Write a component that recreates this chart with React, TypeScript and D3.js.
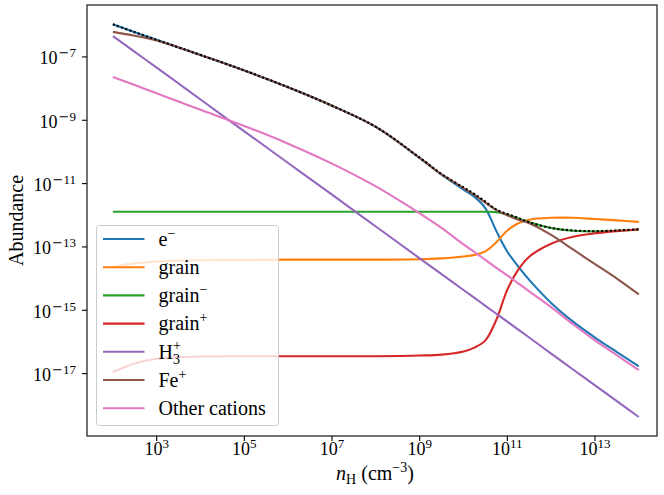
import React from 'react';
import * as d3 from 'd3';

const W = 664;
const H = 495;
// plot frame, in page pixels
const frame = { left: 87, top: 5, right: 657, bottom: 436 };

// hydrogen density (cm^-3)
const nH = [
  1e2, 3.16e2, 1e3, 3.16e3, 1e4, 1e5, 1e6, 1e7, 1e8, 1e9, 3.16e9, 1e10, 1.78e10,
  3.16e10, 5.62e10, 1e11, 1.78e11, 3.16e11, 1e12, 3.16e12, 1e13, 3.16e13, 1e14,
];

const electrons = [
  1.07e-6, 6.03e-7, 3.47e-7, 2.0e-7, 1.15e-7, 3.72e-8, 1.10e-8, 2.88e-9, 6.17e-10, 6.46e-11,
  1.91e-11, 6.46e-12, 3.80e-12, 1.66e-12, 3.16e-13, 7.08e-14, 2.40e-14, 9.12e-15, 1.70e-15,
  4.37e-16, 1.38e-16, 4.79e-17, 1.70e-17,
];
const grain = [
  2.34e-14, 3.02e-14, 3.47e-14, 3.72e-14, 3.80e-14, 3.89e-14, 3.98e-14, 3.98e-14, 3.98e-14,
  4.07e-14, 4.37e-14, 5.01e-14, 5.62e-14, 7.24e-14, 1.41e-13, 3.31e-13, 5.62e-13, 7.24e-13,
  8.32e-13, 8.32e-13, 7.59e-13, 6.92e-13, 6.17e-13,
];
const grainMinus = [
  1.29e-12, 1.29e-12, 1.29e-12, 1.29e-12, 1.29e-12, 1.29e-12, 1.29e-12, 1.29e-12, 1.29e-12,
  1.29e-12, 1.29e-12, 1.29e-12, 1.29e-12, 1.29e-12, 1.26e-12, 1.05e-12, 7.94e-13, 6.03e-13,
  3.98e-13, 3.24e-13, 3.09e-13, 3.24e-13, 3.55e-13,
];
const grainPlus = [
  1.12e-17, 2.09e-17, 2.95e-17, 3.31e-17, 3.47e-17, 3.55e-17, 3.55e-17, 3.55e-17, 3.55e-17,
  3.72e-17, 3.98e-17, 5.01e-17, 6.61e-17, 1.12e-16, 5.01e-16, 4.47e-15, 1.91e-14, 4.90e-14,
  1.26e-13, 2.09e-13, 2.69e-13, 3.16e-13, 3.55e-13,
];
const h3Plus = [
  4.57e-7, 1.45e-7, 4.57e-8, 1.45e-8, 4.52e-9, 4.47e-10, 4.47e-11, 4.47e-12, 4.42e-13,
  4.37e-14, 1.38e-14, 4.37e-15, 2.45e-15, 1.38e-15, 7.76e-16, 4.37e-16, 2.45e-16, 1.38e-16,
  4.27e-17, 1.35e-17, 4.27e-18, 1.35e-18, 4.27e-19,
];
const fePlus = [
  6.17e-7, 4.68e-7, 3.31e-7, 2.0e-7, 1.15e-7, 3.72e-8, 1.10e-8, 2.88e-9, 6.17e-10, 6.46e-11,
  1.95e-11, 7.24e-12, 4.37e-12, 2.51e-12, 1.48e-12, 1.0e-12, 7.24e-13, 5.62e-13, 2.40e-13,
  8.32e-14, 2.88e-14, 1.0e-14, 3.16e-15,
];
const otherCations = [
  2.34e-8, 1.29e-8, 7.08e-9, 3.89e-9, 2.14e-9, 6.61e-10, 1.82e-10, 4.27e-11, 8.13e-12,
  1.15e-12, 3.98e-13, 1.20e-13, 6.92e-14, 3.89e-14, 2.19e-14, 1.26e-14, 7.08e-15, 3.98e-15,
  1.26e-15, 3.63e-16, 1.12e-16, 3.80e-17, 1.29e-17,
];
// total negative charge (black dotted)
const totalNegative = [
  1.07e-6, 6.03e-7, 3.47e-7, 2.0e-7, 1.15e-7, 3.72e-8, 1.10e-8, 2.88e-9, 6.17e-10, 6.61e-11,
  2.0e-11, 7.59e-12, 4.68e-12, 2.69e-12, 1.51e-12, 1.10e-12, 8.18e-13, 6.03e-13, 3.98e-13,
  3.31e-13, 3.16e-13, 3.31e-13, 3.63e-13,
];

const xTickExps = [3, 5, 7, 9, 11, 13];
const yTickExps = [-7, -9, -11, -13, -15, -17];

const series = [
  { key: 'e', color: '#1f77b4', values: electrons },
  { key: 'grain', color: '#ff7f0e', values: grain },
  { key: 'grainMinus', color: '#2ca02c', values: grainMinus },
  { key: 'grainPlus', color: '#d62728', values: grainPlus },
  { key: 'h3', color: '#9467bd', values: h3Plus },
  { key: 'fe', color: '#8c564b', values: fePlus },
  { key: 'other', color: '#e377c2', values: otherCations },
];

const FONT = '"Liberation Serif", "Times New Roman", serif';
const MINUS_FONT = '"DejaVu Sans", sans-serif';

function legendLabel(key: string) {
  const sup = { fontSize: 14 };
  switch (key) {
    case 'e':
      return (<>e<tspan dy={-8} {...sup}>−</tspan></>);
    case 'grain':
      return 'grain';
    case 'grainMinus':
      return (<>grain<tspan dy={-8} {...sup}>−</tspan></>);
    case 'grainPlus':
      return (<>grain<tspan dy={-8} {...sup}>+</tspan></>);
    case 'h3':
      return (<>H<tspan dy={5} {...sup}>3</tspan><tspan dx={-7} dy={-14} {...sup}>+</tspan></>);
    case 'fe':
      return (<>Fe<tspan dy={-8} {...sup}>+</tspan></>);
    default:
      return 'Other cations';
  }
}

export default function App() {
  const x = d3.scaleLog().domain([10 ** 1.41, 10 ** 14.415]).range([frame.left, frame.right]);
  const y = d3.scaleLog().domain([10 ** -18.97, 10 ** -5.36]).range([frame.bottom, frame.top]);

  const line = (vals: number[]) =>
    d3.line<number>()
      .x((_, i) => x(nH[i]))
      .y((d) => y(d))
      .curve(d3.curveCatmullRom.alpha(0.5))(vals) || '';

  const legend = { x: 96.5, y: 225.5, w: 182, h: 200, row: 28.2, first: 239 };

  return (
    <svg width={W} height={H} style={{ position: 'absolute', left: 0, top: 0, background: '#fff' }}
      fontFamily={FONT}>
      <defs>
        <clipPath id="plot-clip">
          <rect x={frame.left} y={frame.top} width={frame.right - frame.left} height={frame.bottom - frame.top} />
        </clipPath>
      </defs>

      <g clipPath="url(#plot-clip)" fill="none" strokeWidth={2.1} strokeLinejoin="round">
        {series.map((s) => (
          <path key={s.key} d={line(s.values)} stroke={s.color} />
        ))}
        <path d={line(totalNegative)} stroke="#000" strokeDasharray="2.1 2.3" />
      </g>

      {/* frame */}
      <rect x={frame.left} y={frame.top} width={frame.right - frame.left} height={frame.bottom - frame.top}
        fill="none" stroke="#000" strokeWidth={1.1} />

      {/* x ticks */}
      {xTickExps.map((e) => {
        const px = x(10 ** e);
        return (
          <g key={e}>
            <line x1={px} x2={px} y1={frame.bottom} y2={frame.bottom + 5} stroke="#000" strokeWidth={1.1} />
            <text x={px} y={455} textAnchor="middle" fontSize={18}>
              10<tspan dy={-7} fontSize={13}>{e}</tspan>
            </text>
          </g>
        );
      })}

      {/* y ticks */}
      {yTickExps.map((e) => {
        const py = y(10 ** e);
        return (
          <g key={e}>
            <line x1={frame.left - 5} x2={frame.left} y1={py} y2={py} stroke="#000" strokeWidth={1.1} />
            <text x={76} y={py + 7.3} textAnchor="end" fontSize={18}>
              10<tspan dy={-7} dx={1} fontSize={13} fontFamily={MINUS_FONT}>−</tspan>
              <tspan fontSize={13}>{-e}</tspan>
            </text>
          </g>
        );
      })}

      {/* axis labels */}
      <text x={375} y={480} textAnchor="middle" fontSize={20} style={{ whiteSpace: 'pre' }}>
        <tspan fontStyle="italic">n</tspan>
        <tspan dy={4} fontSize={14}>H</tspan>
        <tspan dy={-4}> (cm</tspan>
        <tspan dy={-8} fontSize={14}>−3</tspan>
        <tspan dy={8}>)</tspan>
      </text>
      <text transform={`translate(23, ${(frame.top + frame.bottom) / 2}) rotate(-90)`} textAnchor="middle" fontSize={20}>
        Abundance
      </text>

      {/* legend */}
      <g>
        <rect x={legend.x} y={legend.y} width={legend.w} height={legend.h} rx={3}
          fill="#fff" fillOpacity={0.8} stroke="#cccccc" strokeWidth={1} />
        {series.map((s, i) => {
          const cy = legend.first + i * legend.row;
          return (
            <g key={s.key}>
              <line x1={103} x2={144.5} y1={cy} y2={cy} stroke={s.color} strokeWidth={2.1} />
              <text x={158.5} y={cy + 6.7} fontSize={20}>{legendLabel(s.key)}</text>
            </g>
          );
        })}
      </g>
    </svg>
  );
}
